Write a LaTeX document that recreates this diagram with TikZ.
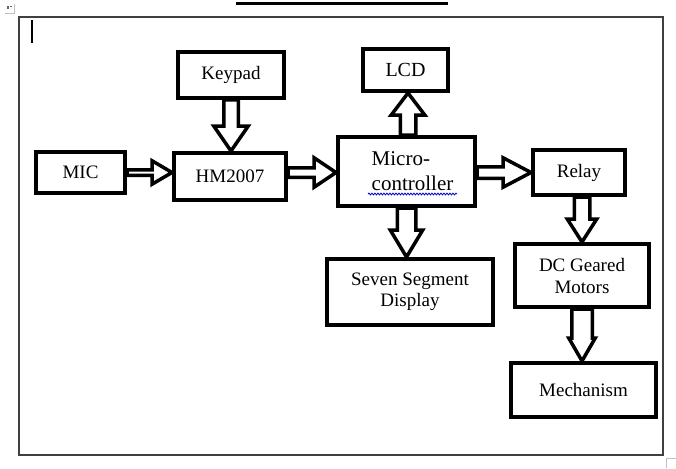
\documentclass[tikz,border=0pt]{standalone}
\usepackage{fontspec}
\setmainfont{Liberation Serif}
\usetikzlibrary{calc,decorations.pathmorphing}
% #1 shaft half width, #2 head half width, #3 head length, #4 start, #5 tip
\newcommand{\blockarr}[5]{%
  \coordinate (tmpB) at ($(#5)!#3!(#4)$);
  \filldraw[blockarrow] ($(#4)!#1!90:(#5)$) -- ($(tmpB)!#1!90:(#5)$) --
    ($(tmpB)!#2!90:(#5)$) -- (#5) -- ($(tmpB)!#2!-90:(#5)$) --
    ($(tmpB)!#1!-90:(#5)$) -- ($(#4)!#1!-90:(#5)$) -- cycle;}
\begin{document}
\begin{tikzpicture}[x=1pt,y=-1pt,
  box/.style={draw, line width=4pt, fill=white, inner sep=0pt,
    font=\fontsize{19}{21}\selectfont, align=center},
  blockarrow/.style={draw, fill=white, line width=3.5pt, line join=miter},
  frameline/.style={draw=black!75, line width=1.5pt},
  marks/.style={draw=black!25, line width=1pt}]
\useasboundingbox (0,0) rectangle (676,468);
\fill[white] (0,0) rectangle (676,468);
% title underline (cut off) and page frame
\fill[black] (236,2) rectangle (448,5);
\draw[frameline] (19,17) rectangle (663,455);
\draw[marks] (5,14) -- (14,14) -- (14,4);
\fill[black!60] (7,6) rectangle (8.5,9);
\fill[black!60] (10,6) rectangle (11.5,7.5);
\draw[marks] (666,468) -- (666,458) -- (676,458);
\draw[black, line width=1.5pt] (32,20) -- (32,43);
% boxes
\node[box, minimum width=106pt, minimum height=46pt] (keypad) at (231,75) {Keypad};
\node[box, minimum width=85pt, minimum height=42pt, font=\fontsize{20}{22}\selectfont] (lcd) at (405.5,70) {LCD};
\node[box, minimum width=89pt, minimum height=41pt] (mic) at (80.5,172.5) {MIC};
\node[box, minimum width=112pt, minimum height=47pt] (hm) at (230,176.5) {HM2007};
\node[box, minimum width=137pt, minimum height=69pt, align=left,
  font=\fontsize{21}{25}\selectfont] (micro) at (406.5,171.5)
  {\hspace*{12pt}Micro-\\\hspace*{12pt}controller};
\node[box, minimum width=92pt, minimum height=45pt] (relay) at (579,172.5) {Relay};
\node[box, minimum width=166pt, minimum height=66pt] (seven) at (410,292) {Seven Segment\\Display};
\node[box, minimum width=134pt, minimum height=63pt, font=\fontsize{19}{22}\selectfont] (dc) at (582,275.5) {DC Geared\\Motors};
\node[box, minimum width=145pt, minimum height=54pt] (mech) at (583.5,390) {Mechanism};
% spell-check underline
\draw[blue!80!black, line width=0.8pt, decorate,
  decoration={snake, segment length=3pt, amplitude=0.9pt}] (368,194) -- (457,194);
% arrow end points
\coordinate (a1s) at (mic.east);
\coordinate (a1e) at (mic.east -| hm.west);
\coordinate (a2s) at (hm.east |- mic.east);
\coordinate (a2e) at (mic.east -| micro.west);
\coordinate (a3s) at (keypad.south);
\coordinate (a3e) at (keypad.south |- hm.north);
\coordinate (a4s) at ($(micro.north)+(1.5,0)$);
\coordinate (a4e) at (a4s |- lcd.south);
\coordinate (a5s) at (micro.east |- relay.west);
\coordinate (a5e) at (relay.west);
\coordinate (a6s) at (micro.south);
\coordinate (a6e) at (micro.south |- seven.north);
\coordinate (a7s) at (dc.north |- relay.south);
\coordinate (a7e) at (dc.north);
\coordinate (a8s) at (dc.south);
\coordinate (a8e) at (dc.south |- mech.north);
% block arrows
\blockarr{2.75pt}{11.75pt}{20pt}{a1s}{a1e}
\blockarr{4.75pt}{14.75pt}{22pt}{a2s}{a2e}
\blockarr{7.25pt}{17.25pt}{25pt}{a3s}{a3e}
\blockarr{7.75pt}{16.75pt}{22pt}{a4s}{a4e}
\blockarr{5.75pt}{14.75pt}{28pt}{a5s}{a5e}
\blockarr{9.25pt}{16.25pt}{27pt}{a6s}{a6e}
\blockarr{7.75pt}{14.75pt}{23pt}{a7s}{a7e}
\blockarr{10.25pt}{13.25pt}{23pt}{a8s}{a8e}
\end{tikzpicture}
\end{document}
